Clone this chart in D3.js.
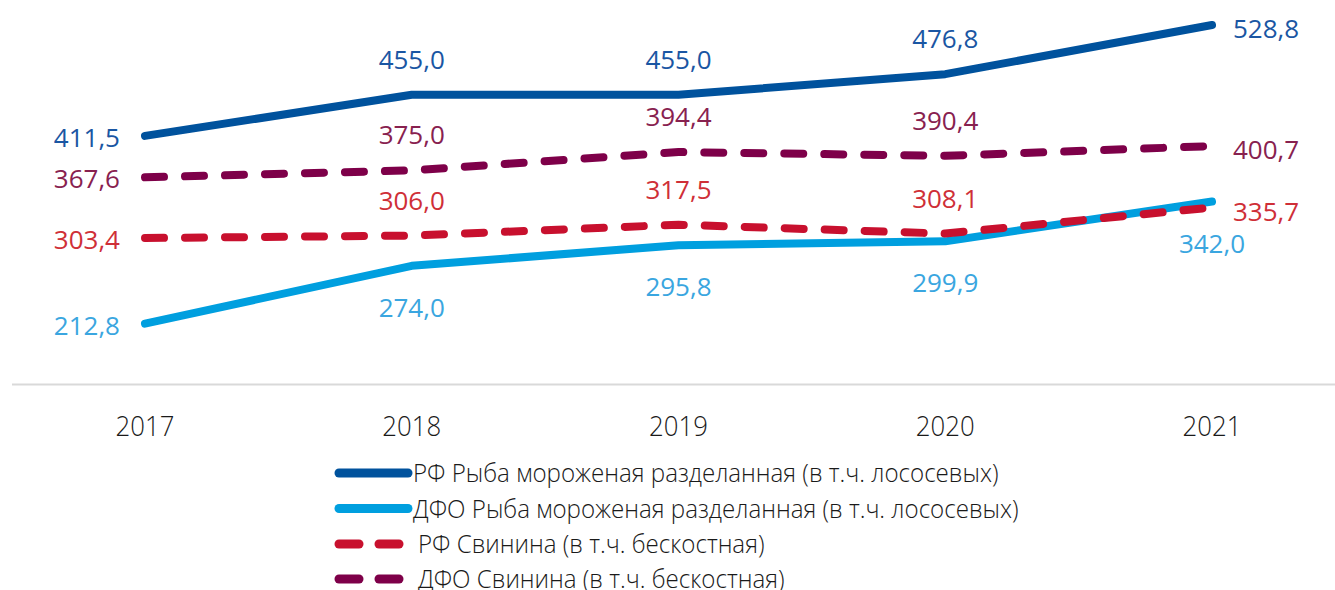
<!DOCTYPE html>
<html>
<head>
<meta charset="utf-8">
<script src="https://cdn.jsdelivr.net/npm/d3@7"></script>
<style>
  body { margin: 0; background: #fff; }
  svg text { font-family: "Open Sans", sans-serif; }
</style>
</head>
<body>
<svg id="chart" width="1335" height="590"></svg>
<script>
const years = ["2017", "2018", "2019", "2020", "2021"];

const rfFish = [411.5, 455.0, 455.0, 476.8, 528.8];
const dfoFish = [212.8, 274.0, 295.8, 299.9, 342.0];
const rfPork = [303.4, 306.0, 317.5, 308.1, 335.7];
const dfoPork = [367.6, 375.0, 394.4, 390.4, 400.7];

const legendLabels = [
    "РФ Рыба мороженая разделанная (в т.ч. лососевых)",
    "ДФО Рыба мороженая разделанная (в т.ч. лососевых)",
    "РФ Свинина (в т.ч. бескостная)",
    "ДФО Свинина (в т.ч. бескостная)"
];

// label side per point: l = left, r = right, a = above, b = below
const series = [
    { name: legendLabels[1], values: dfoFish, color: "#009fdf", text: "#3aa6e0", dash: false, pos: ["l", "b", "b", "b", "b"] },
    { name: legendLabels[2], values: rfPork, color: "#c8102e", text: "#cf2f37", dash: true, pos: ["l", "a", "a", "a", "r"] },
    { name: legendLabels[3], values: dfoPork, color: "#7e0049", text: "#88214f", dash: true, pos: ["l", "a", "a", "a", "r"] },
    { name: legendLabels[0], values: rfFish, color: "#00529d", text: "#1a56a3", dash: false, pos: ["l", "a", "a", "a", "r"] }
];
const legendOrder = [3, 0, 1, 2];

const svg = d3.select("#chart");

const x = d3.scalePoint().domain(years).range([145, 1212]);
const y = d3.scaleLinear().domain([150, 550]).range([383, 5]);

const fmt = v => d3.format(".1f")(v).replace(".", ",");

// horizontal compression for the narrow text
function squeeze(sel, px, py, sx) {
    sel.attr("x", 0).attr("y", 0)
        .attr("transform", `translate(${px},${py}) scale(${sx},1)`);
}

// axis line
svg.append("line")
    .attr("x1", 12).attr("x2", 1335)
    .attr("y1", 384.5).attr("y2", 384.5)
    .attr("stroke", "#d9d9d9")
    .attr("stroke-width", 2);

// year labels
years.forEach(yr => {
    svg.append("text")
        .attr("text-anchor", "middle")
        .attr("font-size", 28)
        .attr("font-weight", 300)
        .attr("fill", "#1a1a1a")
        .text(yr)
        .call(squeeze, x(yr), 436, 0.92);
});

const line = d3.line()
    .x((d, i) => x(years[i]))
    .y(d => y(d));

series.forEach(s => {
    svg.append("path")
        .datum(s.values)
        .attr("d", line)
        .attr("fill", "none")
        .attr("stroke", s.color)
        .attr("stroke-width", 8)
        .attr("stroke-linecap", "round")
        .attr("stroke-linejoin", "round")
        .attr("stroke-dasharray", s.dash ? "19,21" : null);
});

series.forEach(s => {
    s.values.forEach((v, i) => {
        const px = x(years[i]), py = y(v);
        const t = svg.append("text")
            .attr("font-size", 26)
            .attr("fill", s.text)
            .text(fmt(v));
        const p = s.pos[i];
        if (p === "l") t.attr("x", px - 25).attr("y", py + 11).attr("text-anchor", "end");
        if (p === "r") t.attr("x", px + 21).attr("y", py + 13).attr("text-anchor", "start");
        if (p === "a") t.attr("x", px).attr("y", py - 26).attr("text-anchor", "middle");
        if (p === "b") t.attr("x", px).attr("y", py + 51).attr("text-anchor", "middle");
    });
});

// legend
const legendY = [473, 508.5, 544, 579];
legendOrder.forEach((si, k) => {
    const s = series[si];
    const ly = legendY[k];
    const g = svg.append("g");
    if (s.dash) {
        [[339, 359], [379, 399]].forEach(seg => {
            g.append("line")
                .attr("x1", seg[0]).attr("x2", seg[1])
                .attr("y1", ly).attr("y2", ly)
                .attr("stroke", s.color)
                .attr("stroke-width", 9)
                .attr("stroke-linecap", "round");
        });
    } else {
        g.append("line")
            .attr("x1", 339).attr("x2", 408)
            .attr("y1", ly).attr("y2", ly)
            .attr("stroke", s.color)
            .attr("stroke-width", 9)
            .attr("stroke-linecap", "round");
    }
    g.append("text")
        .attr("font-size", 25)
        .attr("font-weight", 300)
        .attr("fill", "#1a1a1a")
        .text(s.name)
        .call(squeeze, s.dash ? 418 : 413, ly + 9, 0.965);
});
</script>
</body>
</html>
